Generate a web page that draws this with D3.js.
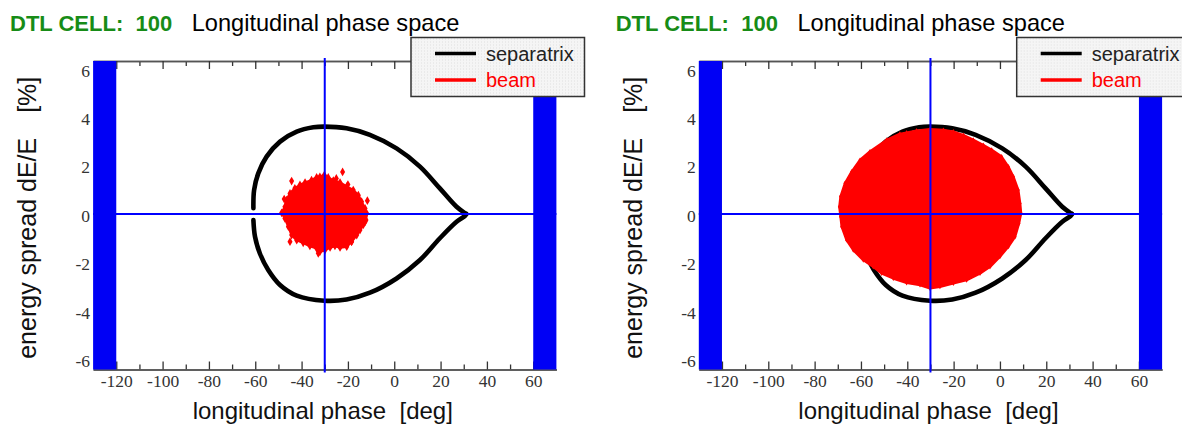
<!DOCTYPE html>
<html>
<head>
<meta charset="utf-8">
<script src="https://cdn.jsdelivr.net/npm/d3@7"></script>
<style>
  html, body { margin: 0; padding: 0; background: #fff; }
  svg { display: block; }
</style>
</head>
<body>
<svg id="chart" width="1182" height="425"></svg>
<script>
// ---- data -------------------------------------------------------------
const cellNumber = 100;
const xMajorTicks = [-120, -100, -80, -60, -40, -20, 0, 20, 40, 60];
const xMinorTicks = [-110, -90, -70, -50, -30, -10, 10, 30, 50];
const yTicks = [-6, -4, -2, 0, 2, 4, 6];
const synchronousPhase = -30;            // deg, vertical reference line
const phaseLimits = [-120, 60];          // deg, acceptance edges (blue bands)
const legendItems = ["separatrix", "beam"];

// separatrix, [phase deg, dE/E %], upper branch from left end to the cusp
const separatrixUpper = [
  [-60.8, 0.24], [-60.5, 0.99], [-58.7, 1.68], [-55.1, 2.37], [-49.3, 2.99],
  [-42.1, 3.40], [-34.9, 3.58], [-30.2, 3.61], [-20.6, 3.54], [-10.5, 3.27],
  [1.0, 2.71], [11.1, 1.96], [19.7, 1.06], [26.9, 0.30], [30.5, 0.04], [31.2, 0.0]
];
// lower branch from the cusp back to the left end
const separatrixLower = [
  [31.2, 0.0], [30.5, -0.08], [26.9, -0.32], [19.7, -1.00], [11.1, -1.90],
  [1.0, -2.66], [-10.5, -3.25], [-20.6, -3.53], [-30.2, -3.58], [-42.1, -3.37],
  [-49.3, -2.93], [-54.4, -2.31], [-58.0, -1.63], [-60.1, -0.94], [-60.8, -0.25]
];

// beam particle cloud, left panel: outline of the dense core
const beamCoreLeft = [
  [-32.1, 1.54], [-30.2, 1.61], [-28.5, 1.51], [-26.3, 1.38], [-23.4, 1.30],
  [-20.5, 1.13], [-17.7, 0.99], [-15.5, 0.78], [-14.1, 0.51], [-12.6, 0.23],
  [-11.9, 0.03], [-12.2, -0.25], [-13.4, -0.45], [-14.8, -0.66], [-16.2, -0.87],
  [-18.4, -1.14], [-20.5, -1.35], [-23.4, -1.38], [-25.6, -1.32], [-27.7, -1.38],
  [-29.9, -1.49], [-32.1, -1.56], [-33.5, -1.42], [-36.4, -1.32], [-39.3, -1.19],
  [-42.1, -1.08], [-44.3, -0.87], [-45.7, -0.52], [-47.2, -0.18], [-48.6, 0.05],
  [-47.2, 0.30], [-46.5, 0.58], [-45.0, 0.85], [-42.9, 1.06], [-40.7, 1.20],
  [-38.5, 1.30], [-35.7, 1.40], [-33.5, 1.51]
];
// isolated particles around the left core
const beamStrayLeft = [
  [-44.3, 1.36], [-25.0, 1.47], [-22.3, 1.74], [-18.4, -1.14], [-45.0, -1.14],
  [-12.6, -0.32], [-32.8, -1.62], [-11.6, 0.55], [-20.0, 1.22], [-47.5, 0.62]
];

// beam particle cloud, right panel: outline of the dense core
const beamCoreRight = [
  [-30.2, 3.50], [-36.0, 3.44], [-40.3, 3.36], [-43.2, 3.31], [-48.9, 3.06],
  [-56.1, 2.58], [-60.4, 2.23], [-64.0, 1.75], [-66.9, 1.27], [-68.8, 0.72],
  [-69.3, 0.30], [-68.8, -0.11], [-68.3, -0.52], [-66.2, -1.07], [-63.3, -1.49],
  [-59.0, -1.90], [-54.7, -2.18], [-51.1, -2.45], [-46.0, -2.66], [-40.3, -2.84],
  [-34.5, -2.93], [-30.2, -3.07], [-25.9, -3.00], [-20.1, -2.86], [-14.4, -2.73],
  [-8.6, -2.45], [-4.3, -2.18], [0.0, -1.76], [3.6, -1.35], [6.5, -0.94],
  [8.2, -0.39], [9.1, 0.03], [8.7, 0.44], [7.9, 0.99], [5.8, 1.54],
  [3.6, 1.96], [0.7, 2.37], [-3.6, 2.65], [-7.2, 2.85], [-11.5, 3.06],
  [-15.8, 3.26], [-20.1, 3.40], [-24.4, 3.47]
];
const beamStrayRight = [];

// ---- layout -------------------------------------------------------------
const svg = d3.select("#chart");
const SANS = "'Liberation Sans', Arial, Helvetica, sans-serif";
const SERIF = "'Liberation Serif', 'Times New Roman', Times, serif";

const defs = svg.append("defs");
const pat = defs.append("pattern")
  .attr("id", "legendFill").attr("patternUnits", "userSpaceOnUse")
  .attr("width", 3).attr("height", 3);
pat.append("rect").attr("width", 3).attr("height", 3).attr("fill", "#f5f5f5");
pat.append("rect").attr("x", 1).attr("y", 1).attr("width", 1).attr("height", 1).attr("fill", "#dedede");

const panels = [
  { dx: 0, core: beamCoreLeft, stray: beamStrayLeft, marker: 22 },
  { dx: 605.7, core: beamCoreRight, stray: beamStrayRight, marker: 8 }
];

panels.forEach(p => {
  const g = svg.append("g").attr("transform", `translate(${p.dx},0)`);

  const x = d3.scaleLinear().domain([-130, 70]).range([93.1, 556.4]);
  const y = d3.scaleLinear().domain([-6.42, 6.32]).range([369.5, 61]);
  const [x0, x1] = x.range();
  const [yb, yt] = y.range();

  // title
  const title = g.append("text")
    .attr("x", 10).attr("y", 31)
    .style("font-family", SANS);
  title.append("tspan").attr("font-weight", "bold").attr("fill", "#178c17")
    .style("font-size", "22px").style("white-space", "pre")
    .text(`DTL CELL:  ${cellNumber}`);
  title.append("tspan").attr("dx", 19.5).attr("fill", "#000")
    .style("font-size", "23.6px")
    .text("Longitudinal phase space");

  // axes: bottom and top frame with inward ticks
  const styleAxis = sel => {
    sel.select(".domain").attr("stroke", "#555").attr("stroke-width", 1.5);
    sel.selectAll(".tick line").attr("stroke", "#333").attr("stroke-width", 1.3);
  };
  g.append("g").attr("transform", `translate(0,${yb})`)
    .call(d3.axisBottom(x).tickValues(xMinorTicks).tickSize(-5).tickSizeOuter(0).tickFormat(""))
    .call(styleAxis);
  const bottom = g.append("g").attr("transform", `translate(0,${yb})`)
    .call(d3.axisBottom(x).tickValues(xMajorTicks).tickSize(-8).tickSizeOuter(0).tickFormat(d => String(d)))
    .call(styleAxis)
    .attr("font-family", SERIF).attr("font-size", 17.5);
  bottom.selectAll(".tick text")
    .attr("y", 5.5).attr("dy", "0.71em")
    .attr("fill", "#333")
    .style("font-family", SERIF).style("font-size", "17.5px");
  g.append("g").attr("transform", `translate(0,${yt})`)
    .call(d3.axisTop(x).tickValues(xMinorTicks).tickSize(-5).tickSizeOuter(0).tickFormat(""))
    .call(styleAxis);
  g.append("g").attr("transform", `translate(0,${yt})`)
    .call(d3.axisTop(x).tickValues(xMajorTicks).tickSize(-8).tickSizeOuter(0).tickFormat(""))
    .call(styleAxis);

  const left = g.append("g").attr("transform", `translate(${x0},0)`)
    .call(d3.axisLeft(y).tickValues(yTicks).tickSize(0).tickPadding(3).tickFormat(d => String(d)))
    .attr("font-family", SERIF).attr("font-size", 17.5);
  left.select(".domain").remove();
  left.selectAll(".tick text")
    .attr("fill", "#333").attr("dy", "0.42em")
    .style("font-family", SERIF).style("font-size", "17.5px");

  // axis titles
  g.append("text")
    .attr("x", (x0 + x1) / 2 - 2).attr("y", 418.5)
    .attr("text-anchor", "middle")
    .style("font-family", SANS).style("font-size", "24px").attr("fill", "#111")
    .style("white-space", "pre")
    .text("longitudinal phase  [deg]");
  const yTitle = g.append("text")
    .attr("transform", `translate(36,${(yb + yt) / 2 + 2.5}) rotate(-90)`)
    .attr("text-anchor", "middle")
    .style("font-family", SANS).style("font-size", "25px").attr("fill", "#111")
    .style("white-space", "pre");
  yTitle.append("tspan").text("energy spread dE/E");
  yTitle.append("tspan").attr("dx", 25).text("[%]");

  // separatrix
  const line = d3.line().x(d => x(d[0])).y(d => y(d[1])).curve(d3.curveCatmullRom);
  g.append("path")
    .attr("d", line(separatrixUpper.concat(separatrixLower.slice(1))))
    .attr("fill", "none").attr("stroke", "#000").attr("stroke-width", 4.6)
    .attr("stroke-linejoin", "round").attr("stroke-linecap", "round");

  // beam core and stray particles
  const area = d3.line().x(d => x(d[0])).y(d => y(d[1])).curve(d3.curveLinearClosed);
  g.append("path")
    .attr("d", area(p.core))
    .attr("fill", "#ff0000").attr("stroke", "#ff0000").attr("stroke-width", 2.5)
    .attr("stroke-linejoin", "round");
  g.append("g").selectAll("path").data(p.core.concat(p.stray)).join("path")
    .attr("d", d3.symbol(d3.symbolDiamond, p.marker)())
    .attr("transform", d => `translate(${x(d[0])},${y(d[1])})`)
    .attr("fill", "#ff0000");

  // reference cross at synchronous phase and zero energy deviation
  g.append("line")
    .attr("x1", x0).attr("x2", x1).attr("y1", y(0)).attr("y2", y(0))
    .attr("stroke", "#0000ff").attr("stroke-width", 2);
  g.append("line")
    .attr("x1", x(synchronousPhase)).attr("x2", x(synchronousPhase))
    .attr("y1", yt - 3).attr("y2", yb + 3)
    .attr("stroke", "#0000ff").attr("stroke-width", 2);

  // acceptance limits
  g.append("rect")
    .attr("x", x0).attr("width", x(phaseLimits[0]) - x0)
    .attr("y", yt).attr("height", yb - yt).attr("fill", "#0000f5");
  g.append("rect")
    .attr("x", x(phaseLimits[1])).attr("width", x1 - x(phaseLimits[1]))
    .attr("y", yt).attr("height", yb - yt).attr("fill", "#0000f5");

  // legend
  const lg = g.append("g").attr("transform", "translate(411,37.5)");
  lg.append("rect").attr("width", 173.5).attr("height", 59)
    .attr("fill", "url(#legendFill)").attr("stroke", "#333").attr("stroke-width", 1.5);
  const colors = ["#000", "#ff0000"];
  legendItems.forEach((name, i) => {
    const ly = 16 + i * 26.5;
    lg.append("line").attr("x1", 24).attr("x2", 65).attr("y1", ly).attr("y2", ly)
      .attr("stroke", colors[i]).attr("stroke-width", 3.5);
    lg.append("text").attr("x", 75).attr("y", ly + 7)
      .style("font-family", SANS).style("font-size", "20px")
      .attr("fill", i === 0 ? "#222" : "#ff0000").text(name);
  });
});
</script>
</body>
</html>
